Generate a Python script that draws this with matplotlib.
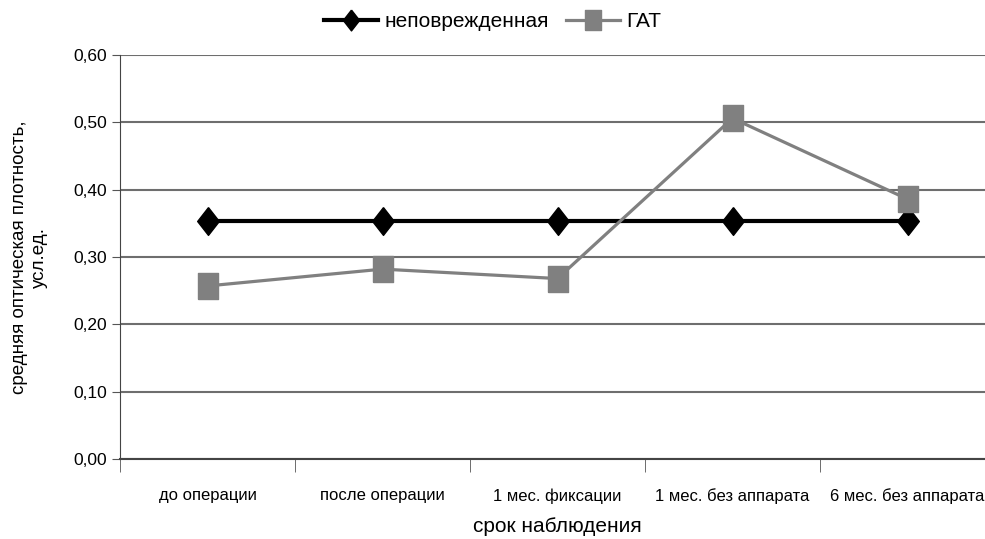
import matplotlib
matplotlib.use("Agg")
import matplotlib.pyplot as plt
from matplotlib import font_manager

# Data
categories = ["до операции", "после операции", "1 мес. фиксации",
              "1 мес. без аппарата", "6 мес. без аппарата"]
intact = [0.353, 0.353, 0.353, 0.353, 0.353]
gat = [0.257, 0.282, 0.268, 0.506, 0.386]
yticks = [0.0, 0.1, 0.2, 0.3, 0.4, 0.5, 0.6]

names = {f.name for f in font_manager.fontManager.ttflist}
fam = "Liberation Sans Narrow" if "Liberation Sans Narrow" in names else "Liberation Sans"
plt.rcParams["font.family"] = [fam, "DejaVu Sans"]

diamond = [(0, 1), (0.78, 0), (0, -1), (-0.78, 0), (0, 1)]
rect = [(-0.77, -1), (0.77, -1), (0.77, 1), (-0.77, 1), (-0.77, -1)]

fig = plt.figure(figsize=(9.85, 5.39), dpi=100)
ax = fig.add_axes([120 / 985, 80 / 539, 875 / 985, 404 / 539])

x = range(len(categories))
ax.plot(x, intact, color="black", lw=3, marker=diamond, markersize=20,
        label="неповрежденная", zorder=3)
ax.plot(x, gat, color="#808080", lw=2.3, marker=rect, markersize=19,
        label="ГАТ", zorder=4)

ax.set_xlim(-0.5, len(categories) - 0.5)
ax.set_ylim(0, 0.6)
ax.set_yticks(yticks)
ax.set_yticklabels([f"{v:.2f}".replace(".", ",") for v in yticks], fontsize=12.5)
ax.yaxis.grid(True, color="#6e6e6e", lw=1.5)
ax.set_axisbelow(True)

ax.set_xticks([i for i in x])
ax.set_xticklabels(categories, fontsize=12)
ax.tick_params(axis="x", length=0, pad=21)
ax.set_xticks([i - 0.5 for i in range(len(categories) + 1)], minor=True)
ax.tick_params(axis="x", which="minor", length=9, color="#555555")
ax.tick_params(axis="y", length=6, color="#555555")

for s in ["top", "right"]:
    ax.spines[s].set_visible(False)
ax.spines["left"].set_color("#444444")
ax.spines["bottom"].set_color("#444444")
ax.spines["bottom"].set_linewidth(1.5)

ax.set_xlabel("срок наблюдения", fontsize=15, labelpad=9)
ax.set_ylabel("средняя оптическая плотность,\nусл.ед.", fontsize=13.5, labelpad=18)

fig.legend(loc="upper center", bbox_to_anchor=(0.5, 1.012), ncol=2, frameon=False,
           fontsize=15, handlelength=2.6, handletextpad=0.3, columnspacing=0.8,
           markerscale=0.75)

fig.savefig("out.png", dpi=100)
